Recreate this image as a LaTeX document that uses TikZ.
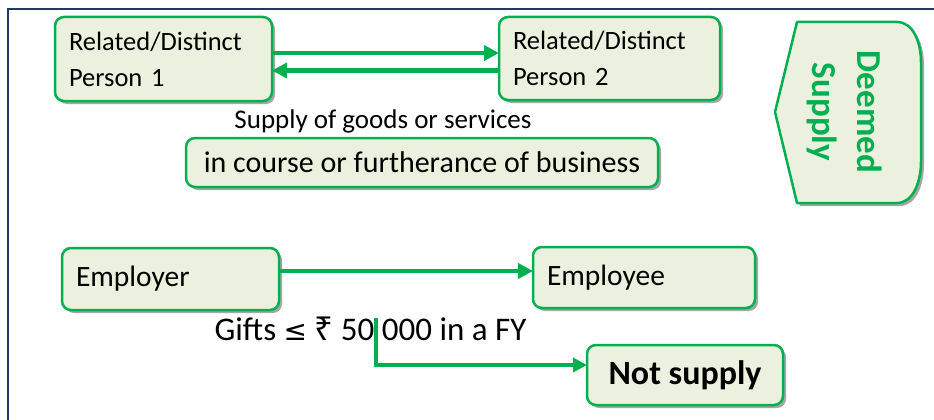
\documentclass[tikz,border=0pt]{standalone}
\usepackage{fontspec}
\setmainfont{Carlito}
\newfontfamily\symfont{Noto Sans}
\newfontfamily\djvfont{DejaVu Sans}
\usetikzlibrary{arrows.meta,shadows}
\definecolor{gr}{HTML}{00B050}
\definecolor{lgr}{HTML}{EBF1DE}
\definecolor{navy}{HTML}{203864}
\definecolor{shd}{HTML}{A6A6A6}
\begin{document}
\begin{tikzpicture}[x=1pt,y=-1pt,
  box/.style={draw=gr, line width=2.5pt, fill=lgr, rounded corners=9pt,
    drop shadow={shadow xshift=3pt, shadow yshift=-3pt, fill=shd, opacity=1},
    inner sep=0pt, outer sep=0pt},
  arr/.style={draw=gr, line width=4.5pt, -{Triangle[length=15pt,width=15pt]}},
  arrthin/.style={draw=gr, line width=4pt, -{Triangle[length=14pt,width=14pt]}}]
\useasboundingbox (0,0) rectangle (934,420);
\fill[white] (0,0) rectangle (934,420);
% frame
\draw[navy, line width=1.5pt] (8,420) -- (8,9) -- (934,9);
% person boxes
\node[box, minimum width=217pt, minimum height=84pt, text width=189pt, align=left,
  font=\fontsize{26.5}{36}\selectfont] (p1) at (163.5,59) {Related/Distinct\\Person 1};
\node[box, minimum width=221pt, minimum height=83pt, text width=193pt, align=left,
  font=\fontsize{26.5}{36}\selectfont] (p2) at (609.5,58.5) {Related/Distinct\\Person 2};
\coordinate (pa) at ([yshift=6pt]p1.east);
\draw[arr] (pa) -- (pa -| p2.west);
\coordinate (pb) at ([yshift=-12pt]p2.west);
\draw[arr] (pb) -- (pb -| p1.east);
\node[font=\fontsize{27}{32}\selectfont, inner sep=0pt] (sup) at (383,121) {Supply of goods or services};
\node[box, minimum width=472pt, minimum height=49pt, font=\fontsize{30}{36}\selectfont] (biz) at (422,162.5) {in course or furtherance of business};
% deemed supply
\fill[shd] ([shift={(3,3)}]797,22) -- ([shift={(3,3)}]897,22)
  .. controls ([shift={(3,3)}]913,22) and ([shift={(3,3)}]921,42) .. ([shift={(3,3)}]921,62)
  -- ([shift={(3,3)}]921,162)
  .. controls ([shift={(3,3)}]921,182) and ([shift={(3,3)}]913,203) .. ([shift={(3,3)}]897,203)
  -- ([shift={(3,3)}]797,203) -- ([shift={(3,3)}]775,112) -- cycle;
\draw[gr, line width=2.5pt, fill=lgr, line join=round] (797,22) -- (897,22)
  .. controls (913,22) and (921,42) .. (921,62) -- (921,162)
  .. controls (921,182) and (913,203) .. (897,203) -- (797,203) -- (775,112) -- cycle;
\node[rotate=-90, text=gr, align=center, font=\fontsize{35}{45}\selectfont\bfseries] (ds) at (845,112) {Deemed\\Supply};
% employer
\node[box, minimum width=217pt, minimum height=62pt, text width=189pt, align=left,
  font=\fontsize{29.5}{34}\selectfont] (emp) at (170.5,279) {Employer};
\node[box, minimum width=222pt, minimum height=61pt, text width=194pt, align=left,
  font=\fontsize{29.5}{34}\selectfont] (empe) at (644,277.5) {Employee};
\coordinate (ea) at ([yshift=8pt]emp.east);
\draw[arr] (ea) -- (ea -| empe.west);
\node[font=\fontsize{33}{38}\selectfont, inner sep=0pt] (gifts) at (370.5,329) {Gifts {\djvfont\fontsize{28}{38}\selectfont ≤} {\symfont ₹} 50 000 in a FY};
\node[box, minimum width=196pt, minimum height=60pt, font=\fontsize{34}{40}\selectfont\bfseries] (ns) at (685,375) {Not supply};
\coordinate (g) at (376,318);
\draw[arrthin] (g) |- ([yshift=10pt]ns.west);
\end{tikzpicture}
\end{document}
